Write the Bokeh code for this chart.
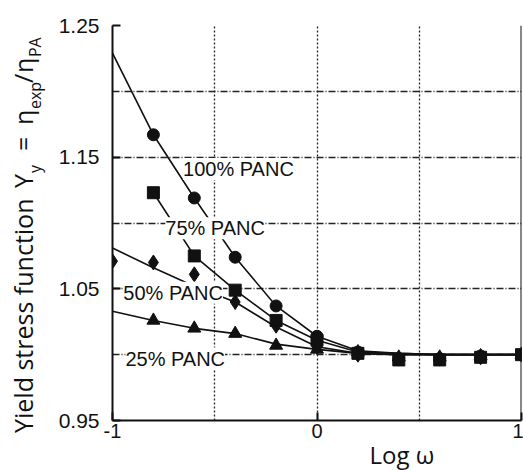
from bokeh.plotting import figure
from bokeh.models import Range1d, FixedTicker, Label, Span, Div
from bokeh.layouts import row, column
from bokeh.embed import file_html
from bokeh.resources import INLINE

# ---------------- data ----------------
log_w = [-1.0, -0.8, -0.6, -0.4, -0.2, 0.0, 0.2, 0.4, 0.6, 0.8, 1.0]
log_w_from_08 = [-0.8, -0.6, -0.4, -0.2, 0.0, 0.2, 0.4, 0.6, 0.8, 1.0]

# measured points
pts_100 = [1.167, 1.119, 1.074, 1.037, 1.014, 1.002, 0.997, 0.997, 0.999, 1.000]   # x = log_w_from_08
pts_75 = [1.123, 1.075, 1.049, 1.026, 1.011, 1.001, 0.996, 0.996, 0.998, 1.000]    # x = log_w_from_08
pts_50 = [1.071, 1.070, 1.061, 1.040, 1.022, 1.006, 1.000, 0.997, 0.997, 0.998, 1.000]  # x = log_w
pts_25 = [1.026, 1.020, 1.016, 1.007, 1.004, 1.002, 0.998, 0.998, 0.999, 1.000]    # x = log_w_from_08

# fitted curves
fit_100 = [1.229, 1.167, 1.119, 1.074, 1.037, 1.014, 1.003, 1.001, 1.000, 1.000, 1.000]  # x = log_w
fit_75 = [1.123, 1.075, 1.049, 1.026, 1.011, 1.002, 1.001, 1.000, 1.000, 1.000]         # x = log_w_from_08
fit_50 = [1.081, 1.066, 1.052, 1.040, 1.021, 1.006, 1.001, 1.000, 1.000, 1.000, 1.000]  # x = log_w
fit_25 = [1.033, 1.026, 1.020, 1.016, 1.008, 1.004, 1.001, 1.000, 1.000, 1.000, 1.000]  # x = log_w

series_names = ["100% PANC", "75% PANC", "50% PANC", "25% PANC"]
x_ticks = [-1, 0, 1]
y_ticks = [0.95, 1.05, 1.15, 1.25]
x_grid = [-0.5, 0, 0.5]
y_grid = [1.0, 1.05, 1.10, 1.15, 1.20, 1.25]

# ---------------- layout ----------------
LEFT_W = 54            # column holding the y title
BOTTOM_H = 24          # strip holding the x title
W = 523 - LEFT_W
H = 470 - BOTTOM_H
ML, MR, MT, MB = 58, 2, 25, 26

INK = "#111111"
FONT = "Liberation Sans"
TFONT = "'Open Sans'"

p = figure(width=W, height=H, output_backend="svg", toolbar_location=None,
           x_range=Range1d(-1, 1), y_range=Range1d(0.95, 1.25),
           min_border_left=ML, min_border_right=MR, min_border_top=MT,
           min_border_bottom=MB)
p.outline_line_color = None
p.background_fill_color = "white"
p.border_fill_color = "white"

for ax, tks in ((p.xaxis, x_ticks), (p.yaxis, y_ticks)):
    ax.ticker = FixedTicker(ticks=tks)
    ax.axis_line_color = INK
    ax.axis_line_width = 2
    ax.major_tick_line_color = INK
    ax.major_tick_line_width = 2
    ax.major_tick_in = 8
    ax.major_tick_out = 0
    ax.minor_tick_line_color = None
    ax.major_label_text_font = FONT
    ax.major_label_text_color = INK
p.yaxis.major_label_text_font_size = "21px"
p.xaxis.major_label_text_font_size = "20px"
p.yaxis.major_label_standoff = 13
p.xaxis.major_label_standoff = 3
p.xaxis.major_label_overrides = {-1: "-1", 0: "0", 1: "1"}
p.yaxis.major_label_overrides = {t: f"{t:.2f}" for t in y_ticks}

p.xgrid.ticker = FixedTicker(ticks=x_grid)
p.ygrid.ticker = FixedTicker(ticks=y_grid)
p.xgrid.grid_line_color = "#222222"
p.xgrid.grid_line_dash = "2 2"
p.xgrid.grid_line_width = 1.3
p.ygrid.grid_line_color = "#222222"
p.ygrid.grid_line_dash = "7 2 1 2"
p.ygrid.grid_line_width = 1.3

p.add_layout(Span(location=1, dimension="height", line_color=INK, line_width=2))

# fitted lines
p.line(log_w, fit_100, line_color=INK, line_width=1.6)
p.line(log_w_from_08, fit_75, line_color=INK, line_width=1.6)
p.line(log_w, fit_50, line_color=INK, line_width=1.6)
p.line(log_w, fit_25, line_color=INK, line_width=1.6)

# markers
p.scatter(log_w_from_08, pts_25, marker="triangle", size=13, color=INK)
p.scatter(log_w, pts_50, marker="diamond", size=15, color=INK)
p.scatter(log_w_from_08, pts_100, marker="circle", size=12, color=INK)
p.scatter(log_w_from_08, pts_75, marker="square", size=12, color=INK)

# series labels (left edge, vertical middle) in data coordinates
label_pos = [(-0.655, 1.141), (-0.742, 1.096), (-0.947, 1.047), (-0.937, 0.997)]
for name, (lx, ly) in zip(series_names, label_pos):
    p.add_layout(Label(x=lx, y=ly, text=name, text_font=FONT,
                       text_font_size="20px", text_color=INK,
                       text_baseline="middle", text_align="left",
                       background_fill_color="white"))

# ---------------- axis titles as HTML text ----------------
sub = "position:relative;top:8px;font-size:16px;"
def piece(txt, w):
    return f'<span style="display:inline-block;width:{w}px;">{txt}</span>'

y_title_html = (
    f'<div style="position:relative;width:{LEFT_W}px;height:{H}px;">'
    f'<div style="position:absolute;left:11px;top:433px;transform-origin:0 0;'
    f'transform:rotate(-90deg);white-space:nowrap;font-family:{TFONT};'
    f'font-size:25px;line-height:25px;color:{INK};">'
    + piece("Yield stress function", 245)
    + piece("Y", 15)
    + piece('<span style="' + sub + '">y</span>', 22)
    + piece("=", 26)
    + piece("\u03b7", 16)
    + piece('<span style="' + sub + '">exp</span>', 26)
    + piece("/", 10)
    + piece("\u03b7", 16)
    + piece('<span style="' + sub + '">PA</span>', 26)
    + '</div></div>'
)
y_title = Div(text=y_title_html, width=LEFT_W, height=H, margin=0)

x_title_html = (
    f'<div style="position:relative;width:523px;height:{BOTTOM_H}px;">'
    f'<div style="position:absolute;left:402px;top:-3px;transform:translateX(-50%);'
    f'white-space:nowrap;font-family:{TFONT};font-size:24px;line-height:24px;'
    f'color:{INK};">Log \u03c9</div></div>'
)
x_title = Div(text=x_title_html, width=523, height=BOTTOM_H, margin=0)

layout = column(row(y_title, p), x_title)
open("out.html", "w").write(file_html(layout, INLINE))
